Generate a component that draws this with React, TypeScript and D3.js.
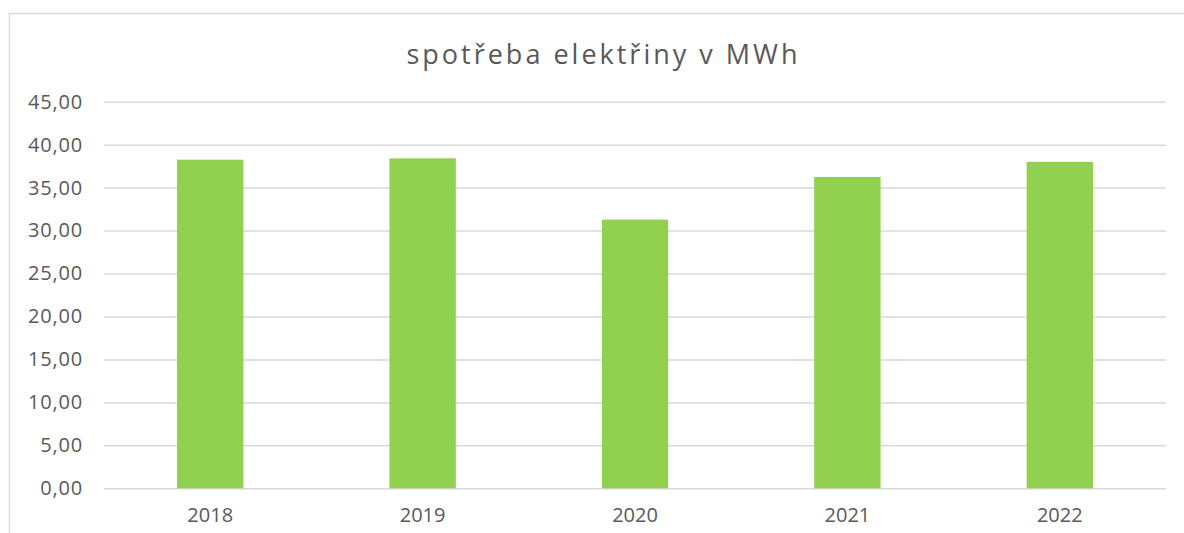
import React, { useEffect, useRef } from 'react';
import * as d3 from 'd3';

const years = ['2018', '2019', '2020', '2021', '2022'];
const consumption = [38.25, 38.41, 31.27, 36.24, 38.0];
const yTicks = [0, 5, 10, 15, 20, 25, 30, 35, 40, 45];
const chartTitle = 'spotřeba elektřiny v MWh';

const App: React.FC = () => {
  const ref = useRef<SVGSVGElement>(null);

  useEffect(() => {
    if (!ref.current) return;
    const svg = d3.select(ref.current);
    svg.selectAll('*').remove();

    const W = 1184;
    const H = 533;
    const margin = { top: 101.7, right: 18, bottom: 44.7, left: 104 };
    const innerW = W - margin.left - margin.right;
    const innerH = H - margin.top - margin.bottom;
    const font = "'Open Sans', sans-serif";

    // chart area frame (only top and left edges are in view)
    svg.append('path')
      .attr('d', `M9.5,${H} V13.5 H${W}`)
      .attr('fill', 'none')
      .attr('stroke', '#d9d9d9')
      .attr('stroke-width', 1.5);

    svg.append('text')
      .attr('x', 603.5)
      .attr('y', 64)
      .attr('text-anchor', 'middle')
      .attr('fill', '#595959')
      .style('font-family', font)
      .style('font-size', '27px')
      .style('letter-spacing', '3px')
      .text(chartTitle);

    const g = svg.append('g').attr('transform', `translate(${margin.left},${margin.top})`);

    const x = d3.scaleBand<string>()
      .domain(years)
      .range([0, innerW])
      .paddingInner(0.6875)
      .paddingOuter(0.34375);

    const y = d3.scaleLinear().domain([0, 45]).range([innerH, 0]);

    // gridlines
    g.append('g')
      .call(d3.axisLeft(y).tickValues(yTicks).tickSize(-innerW).tickFormat(() => ''))
      .call(a => a.select('.domain').remove())
      .selectAll('line')
      .attr('stroke', '#d9d9d9')
      .attr('stroke-width', 1.5);

    // y labels
    const yAxis = g.append('g')
      .call(
        d3.axisLeft(y)
          .tickValues(yTicks)
          .tickSize(0)
          .tickPadding(21)
          .tickFormat(d => (d as number).toFixed(2).replace('.', ','))
      );
    yAxis.select('.domain').remove();
    yAxis.selectAll('text')
      .attr('fill', '#595959')
      .style('font-family', font)
      .style('font-size', '20px')
      .style('letter-spacing', '0.8px');

    // bars
    g.selectAll('rect.bar')
      .data(years)
      .enter()
      .append('rect')
      .attr('class', 'bar')
      .attr('x', d => x(d)!)
      .attr('width', x.bandwidth())
      .attr('y', (d, i) => y(consumption[i]))
      .attr('height', (d, i) => innerH - y(consumption[i]))
      .attr('fill', '#92d050');

    // x labels
    const xAxis = g.append('g')
      .attr('transform', `translate(0,${innerH})`)
      .call(d3.axisBottom(x).tickSize(0).tickPadding(20));
    xAxis.select('.domain').remove();
    xAxis.selectAll('text')
      .attr('fill', '#595959')
      .style('font-family', font)
      .style('font-size', '20px');
  }, []);

  return (
    <svg
      ref={ref}
      width={1184}
      height={533}
      style={{ position: 'absolute', left: 0, top: 0, background: '#fff' }}
    />
  );
};

export default App;
